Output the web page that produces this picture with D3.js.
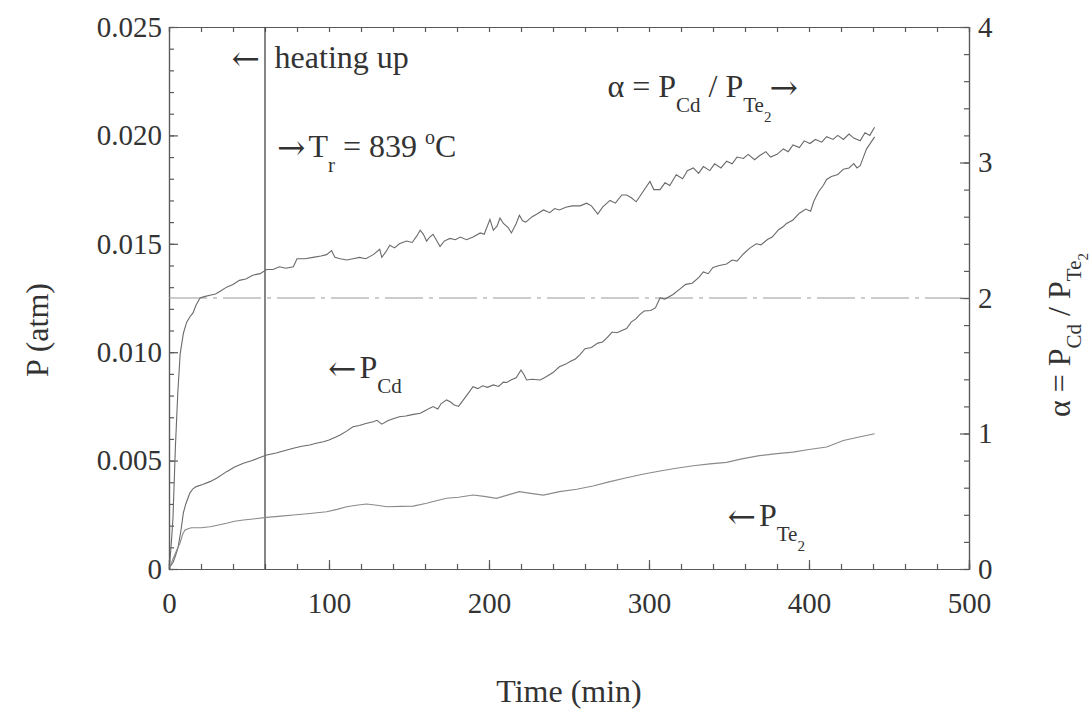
<!DOCTYPE html>
<html>
<head>
<meta charset="utf-8">
<script src="https://cdn.jsdelivr.net/npm/d3@7"></script>
<style>
  body { margin: 0; background: #fff; }
  svg { font-family: "Liberation Serif", "Times New Roman", serif; }
  .axis path, .axis line { stroke: #5a5a5a; stroke-width: 1.2; }
  .axis text { fill: #333; font-size: 29px; font-family: "Liberation Serif", serif; }
  .lbl { fill: #333; font-size: 32px; }
</style>
</head>
<body>
<div id="chart"></div>
<script>
// time ticks / axis ranges
var timeTicks = [0, 100, 200, 300, 400, 500];
var pTicks = [0, 0.005, 0.010, 0.015, 0.020, 0.025];
var alphaTicks = [0, 1, 2, 3, 4];
var heatingEnd = 60;      // min, vertical marker
var alphaRef = 2;         // dash-dot reference line

// alpha = P_Cd / P_Te2  [time (min), alpha]
var alphaData = [
  [0.5,0.05],[1.5,0.2],[2.5,0.38],[4,0.9],[5.5,1.3],[7,1.59],[9,1.74],[11,1.82],[13,1.86],[15,1.89],
  [17,1.95],[19.4,2.0],[22,2.01],[25.6,2.02],[29,2.03],[32,2.05],[36,2.08],[40,2.10],[44,2.13],[48,2.14],
  [52.7,2.17],[57,2.18],[61,2.21],[65,2.21],[69,2.23],[73,2.22],[77.7,2.23],[80,2.29],[85,2.29],[90,2.30],
  [95,2.31],[98.5,2.32],[101.6,2.35],[103.7,2.30],[107,2.29],[111,2.28],[115,2.29],[119,2.30],[123,2.29],
  [127.7,2.32],[131.7,2.36],[133,2.30],[135.5,2.34],[138,2.39],[141,2.37],[144,2.40],[148.5,2.42],[152,2.41],
  [155,2.46],[157,2.50],[159,2.47],[161,2.42],[163,2.45],[165,2.47],[167,2.43],[169.4,2.38],[172,2.42],
  [175.6,2.44],[179,2.43],[182,2.45],[186,2.43],[190,2.45],[194.6,2.48],[197,2.47],[200.6,2.58],[202.7,2.50],
  [205,2.53],[206.9,2.59],[209,2.55],[212,2.52],[214,2.48],[217,2.55],[219,2.61],[221,2.57],[223,2.56],
  [227,2.60],[230,2.62],[234,2.65],[238,2.63],[241,2.66],[244,2.65],[248,2.67],[252,2.68],[257,2.68],
  [261,2.70],[264,2.68],[268,2.62],[271,2.67],[275.6,2.72],[279,2.70],[283,2.76],[286,2.76],[289,2.74],
  [292,2.71],[296,2.78],[300.6,2.86],[303,2.80],[306.9,2.80],[310,2.85],[313,2.83],[317,2.91],[321,2.88],
  [324,2.94],[327.7,2.96],[331,2.92],[334,2.97],[338,2.94],[341,2.99],[345,2.96],[348.5,3.01],[352,2.99],
  [355,3.04],[359,3.03],[362,3.06],[366,3.02],[369,3.05],[373,3.08],[376,3.04],[380,3.06],[384,3.10],
  [387,3.08],[390,3.13],[394,3.11],[397,3.16],[400.6,3.14],[404,3.17],[408,3.15],[411,3.19],[415,3.17],
  [418,3.20],[421.5,3.17],[425,3.21],[428,3.18],[432,3.16],[435,3.22],[438,3.20],[441,3.26]
];

// P_Cd (atm)
var pCdData = [
  [0.5,0.0001],[2.5,0.0003],[4,0.0006],[5.7,0.001],[7.5,0.0018],[9,0.0026],[10.5,0.003],[13,0.0035],
  [15,0.0037],[17,0.0038],[21,0.0039],[25.6,0.00403],[30,0.0042],[36,0.00449],[41,0.0047],[46.5,0.00488],
  [52,0.0050],[56,0.00512],[61,0.00526],[67,0.00535],[72,0.00545],[77.7,0.00557],[83,0.00566],[88,0.00572],
  [92,0.0058],[96.5,0.00587],[100,0.00595],[104,0.00608],[107,0.00618],[111,0.00636],[115,0.00656],
  [119,0.00662],[123,0.00671],[127.7,0.00679],[130,0.00686],[133,0.00668],[137,0.00685],[141,0.00695],
  [144,0.00702],[148,0.00706],[152,0.00712],[157,0.00718],[160,0.0073],[163,0.00742],[165,0.00749],
  [168,0.00738],[170,0.00762],[173.5,0.0078],[176,0.0077],[178,0.00758],[181,0.0075],[184,0.0078],
  [187,0.0081],[190,0.00841],[193,0.00832],[196,0.00845],[199,0.00838],[202.7,0.00849],[206,0.00842],
  [209,0.00862],[211,0.0086],[214,0.00873],[217,0.00882],[220,0.00918],[222,0.00895],[223.5,0.00872],
  [227,0.00875],[232,0.00872],[236,0.00888],[240,0.00906],[244,0.00933],[248,0.00945],[251,0.00958],
  [254,0.00969],[257,0.0099],[260,0.01016],[264,0.01022],[268,0.01042],[271,0.01047],[274,0.01068],
  [277,0.01093],[280,0.0109],[283,0.011],[286,0.01109],[289,0.0114],[292,0.01155],[294,0.01172],
  [297,0.0119],[301,0.01192],[304,0.01204],[306.9,0.0125],[310,0.01245],[315,0.01266],[319,0.0129],
  [323,0.01313],[327,0.01318],[331,0.01344],[334,0.0137],[337,0.01362],[340,0.01391],[344,0.014],
  [348.5,0.01407],[352,0.01425],[355,0.0142],[359,0.01453],[363,0.0148],[367,0.015],[370,0.01495],
  [374,0.0152],[377,0.01531],[381,0.01565],[384,0.0158],[386,0.01594],[390,0.0161],[394,0.01641],
  [398,0.0166],[401,0.0165],[403,0.01696],[406,0.0174],[409,0.0177],[411,0.01797],[414,0.0181],
  [418,0.0182],[421.5,0.01844],[425,0.0185],[428,0.0187],[430,0.0185],[432,0.0186],[434,0.019],
  [436,0.01938],[438,0.0196],[441,0.01993]
];

// P_Te2 (atm)
var pTe2Data = [
  [0.5,0.0001],[2.7,0.0005],[5,0.0009],[6.9,0.0012],[8.5,0.0016],[10,0.0018],[12,0.00186],[14,0.0019],
  [20,0.0019],[25.6,0.00195],[31,0.00203],[36,0.00211],[41,0.0022],[46.5,0.00226],[54,0.00232],[61,0.00238],
  [70,0.00244],[77.7,0.00249],[88,0.00256],[98.5,0.00264],[105,0.00275],[111,0.00287],[117,0.00294],
  [123.5,0.003],[130,0.00294],[136,0.00287],[145,0.00289],[152.6,0.0029],[161,0.00303],[167,0.00315],
  [173.5,0.00326],[181,0.00331],[190,0.00341],[197,0.00335],[204.7,0.00326],[212,0.00342],[219,0.00357],
  [226,0.00349],[234,0.00341],[244,0.00357],[254.8,0.00368],[265,0.00383],[275,0.00402],[286,0.00421],
  [296,0.00437],[306.9,0.00452],[317,0.00465],[327.7,0.00476],[338,0.00485],[348.5,0.00492],[358,0.00508],
  [369,0.00523],[380,0.00532],[390,0.00539],[400,0.00551],[411,0.00563],[421.5,0.00593],[432,0.0061],
  [441,0.00624]
];

var width = 1092, height = 715;
var plotLeft = 169, plotRight = 969, plotTop = 27, plotBottom = 569;

var svg = d3.select("#chart").append("svg")
    .attr("width", width)
    .attr("height", height);

var x = d3.scaleLinear().domain([0, 500]).range([plotLeft, plotRight]);
var yP = d3.scaleLinear().domain([0, 0.025]).range([plotBottom, plotTop]);
var yA = d3.scaleLinear().domain([0, 4]).range([plotBottom, plotTop]);

// minor ticks (inward)
svg.append("g").attr("class", "axis")
    .attr("transform", "translate(0," + plotBottom + ")")
    .call(d3.axisBottom(x).tickValues(d3.range(0, 501, 20)).tickSize(-5).tickFormat(""));
svg.append("g").attr("class", "axis")
    .attr("transform", "translate(0," + plotTop + ")")
    .call(d3.axisTop(x).tickValues(d3.range(0, 501, 20)).tickSize(-5).tickFormat(""));
svg.append("g").attr("class", "axis")
    .attr("transform", "translate(" + plotLeft + ",0)")
    .call(d3.axisLeft(yP).tickValues(d3.range(0, 0.02501, 0.001)).tickSize(-5).tickFormat(""));
svg.append("g").attr("class", "axis")
    .attr("transform", "translate(" + plotRight + ",0)")
    .call(d3.axisRight(yA).tickValues(d3.range(0, 4.01, 0.2)).tickSize(-5).tickFormat(""));

// labelled axes
svg.append("g").attr("class", "axis")
    .attr("transform", "translate(0," + plotBottom + ")")
    .call(d3.axisBottom(x).tickValues(timeTicks).tickSize(-9).tickPadding(23).tickFormat(d3.format("d")));
svg.append("g").attr("class", "axis")
    .attr("transform", "translate(" + plotLeft + ",0)")
    .call(d3.axisLeft(yP).tickValues(pTicks).tickSize(-9).tickPadding(7)
      .tickFormat(function(d) { return d === 0 ? "0" : d3.format(".3f")(d); }));
svg.append("g").attr("class", "axis")
    .attr("transform", "translate(" + plotRight + ",0)")
    .call(d3.axisRight(yA).tickValues(alphaTicks).tickSize(-9).tickPadding(9).tickFormat(d3.format("d")));

// reference lines
svg.append("line")
    .attr("x1", x(0)).attr("x2", x(500))
    .attr("y1", yA(alphaRef)).attr("y2", yA(alphaRef))
    .attr("stroke", "#9a9a9a").attr("stroke-width", 1.1)
    .attr("stroke-dasharray", "38,6,4,6");

svg.append("line")
    .attr("x1", x(heatingEnd)).attr("x2", x(heatingEnd))
    .attr("y1", yP(0)).attr("y2", yP(0.025))
    .attr("stroke", "#444").attr("stroke-width", 1.3);

// curves
var lineP = d3.line().x(function(d) { return x(d[0]); }).y(function(d) { return yP(d[1]); });
var lineA = d3.line().x(function(d) { return x(d[0]); }).y(function(d) { return yA(d[1]); });

svg.append("path").datum(alphaData).attr("d", lineA)
    .attr("fill", "none").attr("stroke", "#6a6a6a").attr("stroke-width", 1.1);
svg.append("path").datum(pCdData).attr("d", lineP)
    .attr("fill", "none").attr("stroke", "#6a6a6a").attr("stroke-width", 1.1);
svg.append("path").datum(pTe2Data).attr("d", lineP)
    .attr("fill", "none").attr("stroke", "#8a8a8a").attr("stroke-width", 1.1);

// rich text: parts = [text, level, dx]; level 0 normal, 1 sub, 2 sub-sub, -1 sup, "a" arrow
function richText(sel, parts, subOff, subSubOff) {
  var sizes = {"0": 32, "1": 21, "2": 15, "-1": 20, "a": 34};
  var offs = {"0": 0, "1": subOff || 15, "2": subSubOff || 25, "-1": -13, "a": 2};
  var cur = 0;
  parts.forEach(function(p) {
    var lv = String(p[1]);
    var ts = sel.append("tspan")
        .attr("dy", offs[lv] - cur)
        .attr("dx", p[2] || 0)
        .style("font-size", sizes[lv] + "px")
        .text(p[0]);
    if (lv === "a") ts.style("font-family", "'DejaVu Serif', serif");
    cur = offs[lv];
  });
}

richText(svg.append("text").attr("class", "lbl")
    .attr("x", x(39)).attr("y", yP(0.02313)),
  [["\u2190", "a"]]);
svg.append("text").attr("class", "lbl")
    .attr("x", x(66)).attr("y", yP(0.02313))
    .text("heating up");

richText(svg.append("text").attr("class", "lbl")
    .attr("x", x(67.5)).attr("y", yP(0.01900)),
  [["\u2192", "a"], ["T", 0, 3], ["r", 1], [" = 839 ", 0], ["o", -1], ["C", 0]]);

richText(svg.append("text").attr("class", "lbl")
    .attr("x", x(274)).attr("y", yA(3.48)),
  [["\u03b1 = P", 0], ["Cd", 1], [" / P", 0], ["Te", 1], ["2", 2], ["\u2192", "a", -2]]);

richText(svg.append("text").attr("class", "lbl")
    .attr("x", x(99.4)).attr("y", yP(0.00882)),
  [["\u2190", "a"], ["P", 0, 3], ["Cd", 1]]);

richText(svg.append("text").attr("class", "lbl")
    .attr("x", x(349)).attr("y", yP(0.0020)),
  [["\u2190", "a"], ["P", 0, 3], ["Te", 1], ["2", 2]]);

// axis titles
svg.append("text").attr("class", "lbl")
    .attr("x", (plotLeft + plotRight) / 2).attr("y", 702)
    .attr("text-anchor", "middle")
    .text("Time (min)");

svg.append("text").attr("class", "lbl")
    .attr("transform", "translate(48,330) rotate(-90)")
    .attr("text-anchor", "middle")
    .text("P (atm)");

richText(svg.append("text").attr("class", "lbl")
    .attr("transform", "translate(1070,335) rotate(-90)")
    .attr("text-anchor", "middle"),
  [["\u03b1 = P", 0], ["Cd", 1], [" / P", 0], ["Te", 1], ["2", 2]], 11, 18);
</script>
</body>
</html>
